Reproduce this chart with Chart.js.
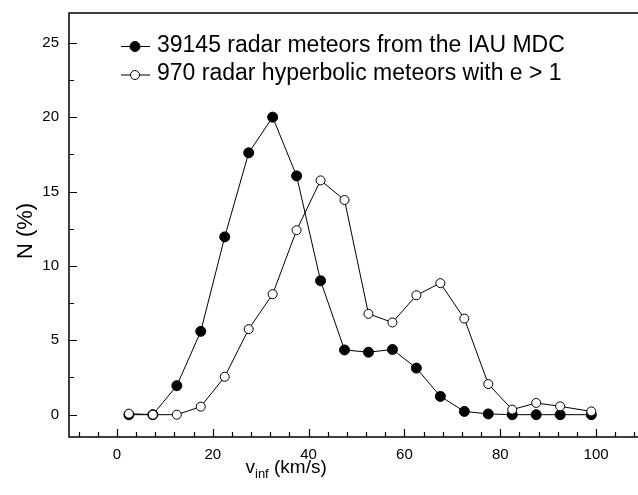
<!DOCTYPE html>
<html>
<head>
<meta charset="utf-8">
<script src="https://cdn.jsdelivr.net/npm/chart.js@4"></script>
<style>
    html, body { margin: 0; padding: 0; background: #fff; overflow: hidden; }
    #wrap { width: 650px; height: 495px; }
</style>
</head>
<body>
<div id="wrap"><canvas id="plot" width="650" height="495"></canvas></div>
<script>
const velocities = [2.5, 7.5, 12.5, 17.5, 22.5, 27.5, 32.5, 37.5, 42.5, 47.5,
                    52.5, 57.5, 62.5, 67.5, 72.5, 77.5, 82.5, 87.5, 92.5, 99];
const radarAll = [0, 0, 1.95, 5.6, 11.95, 17.6, 20.0, 16.05, 9.0, 4.35,
                  4.2, 4.38, 3.13, 1.23, 0.22, 0.05, 0, 0, 0, 0];
const radarHyperbolic = [0.07, 0, 0, 0.54, 2.55, 5.75, 8.1, 12.4, 15.75, 14.43,
                         6.78, 6.2, 8.03, 8.84, 6.46, 2.06, 0.34, 0.79, 0.56, 0.22];
const xTickLabels = [0, 20, 40, 60, 80, 100];
const yTickLabels = [0, 5, 10, 15, 20, 25];
const legendLabels = ['39145 radar meteors from the IAU MDC', '970 radar hyperbolic meteors with e > 1'];

const FONT = '"Liberation Sans", Arial, sans-serif';

function toPoints(ys) {
    return velocities.map((v, i) => ({ x: v, y: ys[i] }));
}

// frame + inward ticks, drawn through the scales
const frameTicks = {
    id: 'frameTicks',
    afterDraw(chart) {
        const ctx = chart.ctx;
        const area = chart.chartArea;
        const xs = chart.scales.x;
        const ys = chart.scales.y;
        ctx.save();
        ctx.strokeStyle = '#000';
        ctx.lineWidth = 1.5;
        ctx.strokeRect(area.left, area.top, area.right - area.left, area.bottom - area.top);

        ctx.lineWidth = 1.2;
        ctx.beginPath();
        for (let v = -8; v <= xs.max; v += 4) {
            const px = Math.round(xs.getPixelForValue(v)) + 0.5;
            const len = v % 20 === 0 ? 8 : 5;
            ctx.moveTo(px, area.bottom);
            ctx.lineTo(px, area.bottom - len);
        }
        for (let v = 0; v <= ys.max; v += 2.5) {
            const py = Math.round(ys.getPixelForValue(v)) + 0.5;
            const len = v % 5 === 0 ? 8 : 5;
            ctx.moveTo(area.left, py);
            ctx.lineTo(area.left + len, py);
        }
        ctx.stroke();

        // axis titles
        ctx.fillStyle = '#000';
        ctx.textAlign = 'left';
        ctx.textBaseline = 'alphabetic';
        let x = 245.5;
        ctx.font = '19px ' + FONT;
        ctx.fillText('v', x, 473);
        x += ctx.measureText('v').width;
        ctx.font = '13px ' + FONT;
        ctx.fillText('inf', x, 477.5);
        x += ctx.measureText('inf').width;
        ctx.font = '19px ' + FONT;
        ctx.fillText(' (km/s)', x, 473);

        ctx.translate(31.5, 231);
        ctx.rotate(-Math.PI / 2);
        ctx.textAlign = 'center';
        ctx.font = '22px ' + FONT;
        ctx.fillText('N (%)', 0, 0);
        ctx.restore();
    }
};

const legendBox = {
    id: 'legendBox',
    afterDraw(chart) {
        const ctx = chart.ctx;
        const rows = [46.5, 75];
        const baselines = [51.5, 80];
        ctx.save();
        chart.data.datasets.forEach((ds) => {
            const row = ds.legendRow;
            const y = rows[row];
            ctx.strokeStyle = '#000';
            ctx.lineWidth = 1;
            ctx.beginPath();
            ctx.moveTo(121, y);
            ctx.lineTo(150, y);
            ctx.stroke();
            ctx.beginPath();
            ctx.arc(135, y, ds.pointRadius, 0, Math.PI * 2);
            ctx.fillStyle = ds.pointBackgroundColor;
            ctx.fill();
            ctx.stroke();
            ctx.fillStyle = '#000';
            ctx.font = '23px ' + FONT;
            ctx.textBaseline = 'alphabetic';
            ctx.fillText(legendLabels[row], 157, baselines[row]);
        });
        ctx.restore();
    }
};

const ctx = document.getElementById('plot').getContext('2d');
new Chart(ctx, {
    type: 'scatter',
    data: {
        datasets: [
            {
                label: legendLabels[1],
                legendRow: 1,
                data: toPoints(radarHyperbolic),
                showLine: true,
                borderColor: '#000',
                borderWidth: 1,
                pointRadius: 4.5,
                pointBackgroundColor: '#fff',
                pointBorderColor: '#000',
                pointBorderWidth: 1,
                order: 0
            },
            {
                label: legendLabels[0],
                legendRow: 0,
                data: toPoints(radarAll),
                showLine: true,
                borderColor: '#000',
                borderWidth: 1,
                pointRadius: 5,
                pointBackgroundColor: '#000',
                pointBorderColor: '#000',
                pointBorderWidth: 1,
                order: 1
            }
        ]
    },
    options: {
        responsive: false,
        animation: false,
        devicePixelRatio: 1,
        layout: { padding: { left: 0, top: 13, right: 2, bottom: 0 } },
        plugins: {
            legend: { display: false },
            tooltip: { enabled: false }
        },
        scales: {
            x: {
                type: 'linear',
                min: -10,
                max: 110,
                grid: { display: false, drawTicks: false },
                border: { display: false },
                afterBuildTicks: (scale) => { scale.ticks = xTickLabels.map(v => ({ value: v })); },
                afterFit: (scale) => {
                    scale.height = 58;
                    scale.paddingLeft = 0;
                    scale.paddingRight = 0;
                },
                ticks: {
                    padding: 9,
                    color: '#000',
                    font: { family: FONT, size: 15 },
                    maxRotation: 0
                }
            },
            y: {
                type: 'linear',
                min: -1.5,
                max: 27,
                grid: { display: false, drawTicks: false },
                border: { display: false },
                afterBuildTicks: (scale) => { scale.ticks = yTickLabels.map(v => ({ value: v })); },
                afterFit: (scale) => {
                    scale.width = 69;
                    scale.paddingTop = 0;
                    scale.paddingBottom = 0;
                },
                ticks: {
                    padding: 10,
                    color: '#000',
                    font: { family: FONT, size: 15 }
                }
            }
        }
    },
    plugins: [frameTicks, legendBox]
});
</script>
</body>
</html>
